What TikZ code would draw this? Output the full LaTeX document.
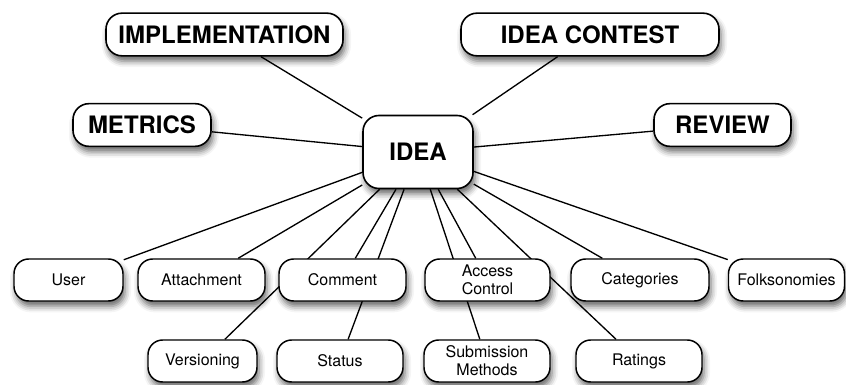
\documentclass[tikz,border=0pt]{standalone}
\usepackage{fontspec}
\setmainfont{TeX Gyre Heros}
\usetikzlibrary{shapes,backgrounds,shadows.blur}

\begin{document}
\begin{tikzpicture}[
x=0.75pt,y=-0.75pt,
topic/.style={
  draw,
  rounded corners=12pt,
  line width=1.2pt,
  fill=white,
  blur shadow={shadow xshift=1.5pt,shadow yshift=-4pt,shadow blur radius=4.5pt,shadow opacity=60},
  minimum height=32pt,
  inner sep=1pt,
  font=\fontsize{18}{20}\selectfont\bfseries
},
leaf/.style={
  draw,
  rounded corners=11pt,
  line width=1.1pt,
  fill=white,
  blur shadow={shadow xshift=1.5pt,shadow yshift=-4pt,shadow blur radius=4.5pt,shadow opacity=60},
  minimum height=31.5pt,
  inner sep=1pt,
  align=center,
  font=\fontsize{12}{13.5}\selectfont
},
link/.style={line width=1pt}
]
\useasboundingbox (0,0) rectangle (846,385);

\node[topic,minimum width=82.5pt,minimum height=54.75pt] at (418,152)
  (idea) {IDEA};
\node[topic,minimum width=177.75pt] at (224.5,34.5)
  (impl) {IMPLEMENTATION};
\node[topic,minimum width=193.5pt] at (590,34.5)
  (contest) {IDEA CONTEST};
\node[topic,minimum width=103.5pt] at (142,125)
  (metrics) {METRICS};
\node[topic,minimum width=102.75pt] at (722.5,125)
  (review) {REVIEW};

\node[leaf,minimum width=81.75pt] at (68.5,280)
  (user) {User};
\node[leaf,minimum width=95.25pt] at (201.5,280)
  (attach) {Attachment};
\node[leaf,minimum width=95.25pt] at (342.5,280)
  (comment) {Comment};
\node[leaf,minimum width=93.75pt] at (487.5,280)
  (access) {Access\\Control};
\node[leaf,minimum width=103.5pt] at (640,280)
  (categ) {Categories};
\node[leaf,minimum width=87pt] at (786.5,280)
  (folks) {Folksonomies};

\node[leaf,minimum width=81.75pt] at (202.5,361)
  (version) {Versioning};
\node[leaf,minimum width=94.5pt] at (340,361)
  (status) {Status};
\node[leaf,minimum width=94.5pt] at (487,361)
  (submit) {Submission\\Methods};
\node[leaf,minimum width=94.5pt] at (639,361)
  (ratings) {Ratings};

\begin{scope}[on background layer]
\draw[link] (idea) -- (impl);
\draw[link] (idea) -- (contest);
\draw[link] (idea) -- (metrics);
\draw[link] (idea) -- (review);
\draw[link] (idea) -- (user);
\draw[link] (idea) -- (attach);
\draw[link] (idea) -- (comment);
\draw[link] (idea) -- (version);
\draw[link] (idea) -- (status);
\draw[link] (idea) -- (access);
\draw[link] (idea) -- (submit);
\draw[link] (idea) -- (ratings);
\draw[link] (idea) -- (categ);
\draw[link] (idea) -- (folks);
\end{scope}
\end{tikzpicture}
\end{document}
